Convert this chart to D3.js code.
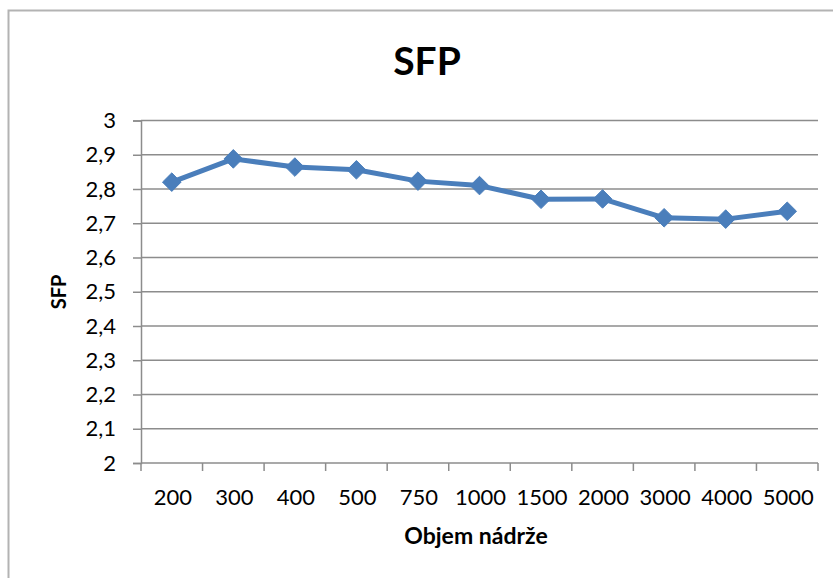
<!DOCTYPE html>
<html>
<head>
<meta charset="utf-8">
<script src="https://cdn.jsdelivr.net/npm/d3@7"></script>
<style>
  body { margin: 0; background: #fff; }
  svg text { font-family: Lato, "Open Sans", sans-serif; fill: #000; }
</style>
</head>
<body>
<svg id="chart" width="833" height="578"></svg>
<script>
// ---- DATA ---- //
const categories = ["200", "300", "400", "500", "750", "1000", "1500", "2000", "3000", "4000", "5000"];
const sfpValues = [2.82, 2.888, 2.864, 2.856, 2.823, 2.81, 2.77, 2.771, 2.716, 2.712, 2.735];
const yTicks = [2, 2.1, 2.2, 2.3, 2.4, 2.5, 2.6, 2.7, 2.8, 2.9, 3];

const svg = d3.select("#chart");

// chart frame (only top and left edges visible)
svg.append("path")
  .attr("d", "M8.5,578 L8.5,10.5 L833,10.5")
  .attr("fill", "none")
  .attr("stroke", "#b3b3b3")
  .attr("stroke-width", 2);

// plot area
const plot = {left: 141, right: 818, top: 120.5, bottom: 463};

const xScale = d3.scaleBand()
  .domain(categories)
  .range([plot.left, plot.right]);

const yScale = d3.scaleLinear()
  .domain([2, 3])
  .range([plot.bottom, plot.top]);

// gridlines
svg.append("g")
  .selectAll("line")
  .data(yTicks.slice(1))
  .enter().append("line")
    .attr("x1", plot.left)
    .attr("x2", plot.right)
    .attr("y1", d => yScale(d))
    .attr("y2", d => yScale(d))
    .attr("stroke", "#8c8c8c")
    .attr("stroke-width", 1.5);

// y axis
const yAxis = d3.axisLeft(yScale)
  .tickValues(yTicks)
  .tickSize(8)
  .tickPadding(17)
  .tickFormat(d => d3.format(".1f")(d).replace(".", ",").replace(",0", ""));

const yG = svg.append("g")
  .attr("transform", "translate(" + plot.left + ",0)")
  .call(yAxis);
yG.select(".domain").attr("stroke", "#8c8c8c").attr("stroke-width", 1.5);
yG.selectAll(".tick line").attr("stroke", "#8c8c8c").attr("stroke-width", 1.5);
yG.selectAll(".tick text").attr("font-size", 22).attr("fill", "#000");

// x axis: ticks sit between categories
const xG = svg.append("g")
  .attr("transform", "translate(0," + plot.bottom + ")");
xG.append("line")
  .attr("x1", plot.left)
  .attr("x2", plot.right)
  .attr("stroke", "#8c8c8c")
  .attr("stroke-width", 1.5);
const boundaries = categories.map(c => xScale(c)).concat([plot.right]);
xG.selectAll(".xtick")
  .data(boundaries)
  .enter().append("line")
    .attr("class", "xtick")
    .attr("x1", d => d)
    .attr("x2", d => d)
    .attr("y1", 0)
    .attr("y2", 8)
    .attr("stroke", "#8c8c8c")
    .attr("stroke-width", 1.5);
xG.selectAll(".xlabel")
  .data(categories)
  .enter().append("text")
    .attr("class", "xlabel")
    .attr("x", d => xScale(d) + xScale.bandwidth() / 2 + 1)
    .attr("y", 42)
    .attr("text-anchor", "middle")
    .attr("font-size", 22)
    .text(d => d);

// the series line
const line = d3.line()
  .x((d, i) => xScale(categories[i]) + xScale.bandwidth() / 2)
  .y(d => yScale(d));

svg.append("path")
  .datum(sfpValues)
  .attr("d", line)
  .attr("fill", "none")
  .attr("stroke", "#4a7ebb")
  .attr("stroke-width", 5)
  .attr("stroke-linejoin", "round");

// diamond markers
const diamond = d3.symbol().type(d3.symbolDiamond2).size(220);
svg.selectAll(".marker")
  .data(sfpValues)
  .enter().append("path")
    .attr("class", "marker")
    .attr("d", diamond)
    .attr("transform", (d, i) => "translate(" + (xScale(categories[i]) + xScale.bandwidth() / 2) + "," + yScale(d) + ")")
    .attr("fill", "#4a7ebb")
    .attr("stroke", "#4a7ebb")
    .attr("stroke-width", 1);

// titles
svg.append("text")
  .attr("x", 427)
  .attr("y", 75)
  .attr("text-anchor", "middle")
  .attr("font-size", 39)
  .attr("font-weight", "bold")
  .text("SFP");

svg.append("text")
  .attr("x", 476)
  .attr("y", 544)
  .attr("text-anchor", "middle")
  .attr("font-size", 23)
  .attr("font-weight", "bold")
  .text("Objem nádrže");

svg.append("text")
  .attr("transform", "translate(66,292) rotate(-90)")
  .attr("text-anchor", "middle")
  .attr("font-size", 20)
  .attr("font-weight", "bold")
  .text("SFP");
</script>
</body>
</html>
